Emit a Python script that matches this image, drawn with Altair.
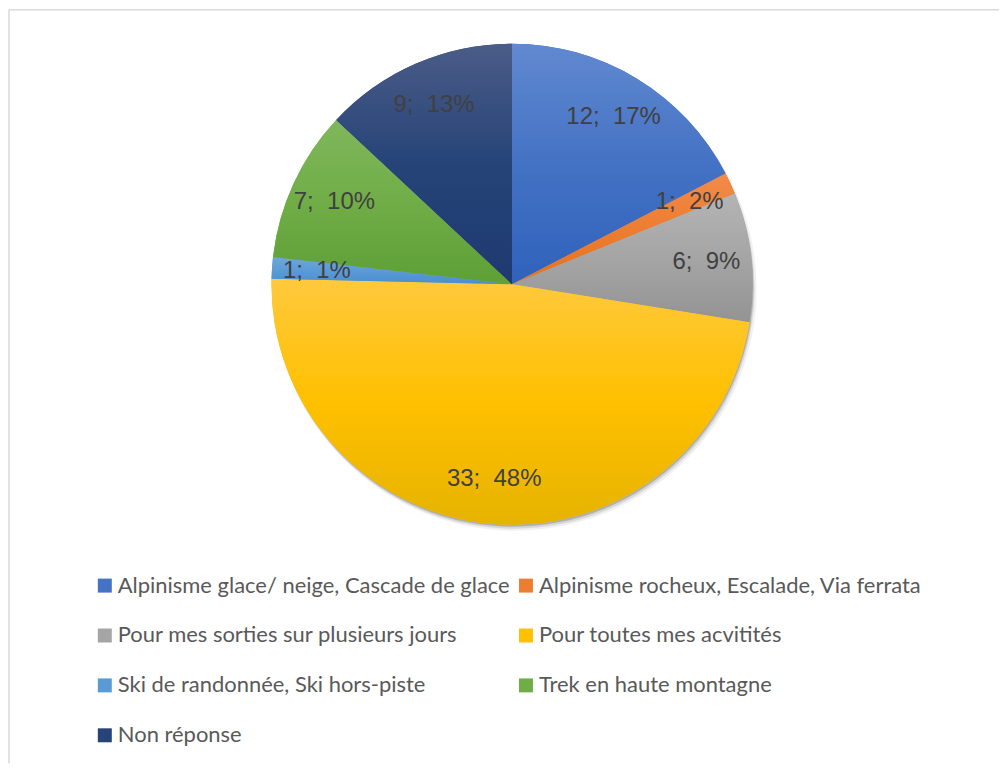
import altair as alt
import pandas as pd

categories = [
    "Alpinisme glace/ neige, Cascade de glace",
    "Alpinisme rocheux, Escalade, Via ferrata",
    "Pour mes sorties sur plusieurs jours",
    "Pour toutes mes acvitités",
    "Ski de randonnée, Ski hors-piste",
    "Trek en haute montagne",
    "Non réponse",
]
values = [12, 1, 6, 33, 1, 7, 9]
percents = [17, 2, 9, 48, 1, 10, 13]

solid_colors = ["#4472C4", "#ED7D31", "#A5A5A5", "#FFC000", "#5B9BD5", "#70AD47", "#264478"]
grad_top = ["#6189D0", "#F28B4A", "#B4B4B4", "#FFC93D", "#6EA7DD", "#80B75C", "#4B5C87"]
grad_bottom = ["#2F62BC", "#E6721F", "#939393", "#E6B300", "#4A8ED0", "#5E9F36", "#1E3970"]

df = pd.DataFrame({
    "cat": categories,
    "value": values,
    "idx": list(range(len(categories))),
    "label": [f"{v};\u00a0 {p}%" for v, p in zip(values, percents)],
})
total = sum(values)

# legend fills column by column: reorder so that it reads row by row (2 columns)
legend_order = categories[0::2] + categories[1::2]
legend_colors = [solid_colors[categories.index(c)] for c in legend_order]

CX, CY, R = 504, 275, 241

base = alt.Chart(df).transform_window(
    cum="sum(value)", sort=[alt.SortField("idx")], frame=[None, 0]
).transform_calculate(
    start="datum.cum - datum.value",
    mid="datum.cum - datum.value / 2",
)

theta_scale = alt.Scale(domain=[0, total], range=[0, 6.283185307179586])

legend = alt.Legend(
    orient="none", legendX=85, legendY=566, columns=2, title=None,
    symbolType="square", symbolSize=196, symbolStrokeWidth=0,
    labelFont="Lato", labelFontSize=22, labelColor="#595959",
    rowPadding=28, columnPadding=4, labelOffset=2, padding=0, labelLimit=0,
)

pie_solid = base.mark_arc(outerRadius=R).encode(
    theta=alt.Theta("start:Q", scale=theta_scale),
    theta2="cum:Q",
    color=alt.Color("cat:N", scale=alt.Scale(domain=legend_order, range=legend_colors), legend=legend),
    x=alt.value(CX), y=alt.value(CY),
)

shadow_df = pd.DataFrame({"k": [0]})
shadows = []
for dx, dy, dr, op in [(3, 5, 1, 0.06), (2, 4, 0, 0.10), (1, 2, 0, 0.18)]:
    shadows.append(
        alt.Chart(shadow_df).mark_arc(
            theta=0, theta2=6.2832, outerRadius=R + dr, fill="#000000", opacity=op
        ).encode(x=alt.value(CX + dx), y=alt.value(CY + dy))
    )

grad_layers = []
for i, cat in enumerate(categories):
    g = alt.Gradient(
        gradient="linear", x1=0, y1=0, x2=0, y2=1,
        stops=[alt.GradientStop(offset=0, color=grad_top[i]),
               alt.GradientStop(offset=0.5, color=solid_colors[i]),
               alt.GradientStop(offset=1, color=grad_bottom[i])],
    )
    grad_layers.append(
        base.transform_filter(alt.datum.idx == i).mark_arc(outerRadius=R, fill=g).encode(
            theta=alt.Theta("start:Q", scale=theta_scale),
            theta2="cum:Q",
            x=alt.value(CX), y=alt.value(CY),
        )
    )

labels = base.mark_text(
    radius=196, font="Liberation Sans", fontSize=24, color="#404040",
    align="center", baseline="middle",
).encode(
    theta=alt.Theta("mid:Q", scale=theta_scale),
    text="label:N",
    x=alt.value(CX), y=alt.value(CY),
)

border_top = alt.Chart(shadow_df).mark_rule(color="#D9D9D9", strokeWidth=1.5).encode(
    x=alt.value(0), x2=alt.value(992), y=alt.value(0)
)
border_left = alt.Chart(shadow_df).mark_rule(color="#D9D9D9", strokeWidth=1.5).encode(
    x=alt.value(0), y=alt.value(0), y2=alt.value(755)
)

chart = alt.layer(
    *shadows, pie_solid, *grad_layers, labels, border_top, border_left
).properties(
    width=992, height=755, padding=0, background="white",
).configure_view(stroke="transparent", strokeWidth=0)

chart.save("out.html", embed_options={"renderer": "svg", "actions": False})
